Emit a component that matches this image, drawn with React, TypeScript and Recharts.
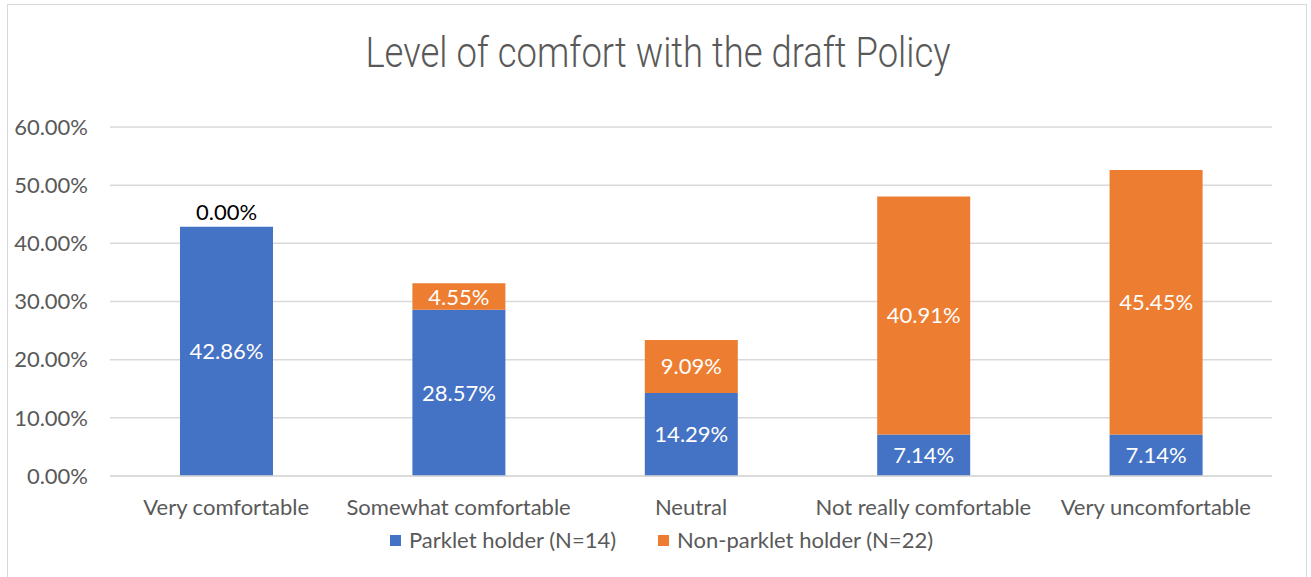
import React from 'react';
import { BarChart, Bar, XAxis, YAxis, CartesianGrid, LabelList } from 'recharts';

const categories = ['Very comfortable', 'Somewhat comfortable', 'Neutral', 'Not really comfortable', 'Very uncomfortable'];
const parkletHolder = [42.86, 28.57, 14.29, 7.14, 7.14];
const nonParkletHolder = [0, 4.55, 9.09, 40.91, 45.45];
const yTicks = [0, 10, 20, 30, 40, 50, 60];

const data = categories.map((name, i) => ({
  name,
  parklet: parkletHolder[i],
  nonParklet: nonParkletHolder[i],
}));

const FONT = 'Lato, "Open Sans", sans-serif';
const BLUE = '#4472C4';
const ORANGE = '#ED7D31';
const FS = 22;

const pct = (v: number) => `${Number(v).toFixed(2)}%`;

// white label in the middle of a segment
const SegmentLabel = (props: any) => {
  const { x, y, width, height, value } = props;
  if (!height || Math.abs(height) < 1) return null;
  return (
    <text x={x + width / 2} y={y + height / 2} dy={8} textAnchor="middle" fill="#fff" fontSize={FS} fontFamily={FONT}>
      {pct(value)}
    </text>
  );
};

// empty non-parklet segment: its label sits on top of the blue bar
const ZeroLabel = (props: any) => {
  const { x, y, width, index } = props;
  if (nonParkletHolder[index] !== 0) return null;
  return (
    <text x={x + width / 2} y={y - 7} textAnchor="middle" fill="#000" fontSize={FS} fontFamily={FONT}>
      {pct(nonParkletHolder[index])}
    </text>
  );
};

export default function App() {
  return (
    <div style={{ position: 'absolute', left: 0, top: 0, width: 1311, height: 577, background: '#fff', overflow: 'hidden' }}>
      <div style={{ position: 'absolute', left: 7, top: 4, width: 1298, height: 600, border: '1.5px solid #d9d9d9' }} />
      <svg style={{ position: 'absolute', left: 0, top: 0 }} width={1311} height={90}>
        <text
          x={658}
          y={67}
          textAnchor="middle"
          fontFamily="Roboto, sans-serif"
          fontWeight={300}
          fontSize={42}
          fill="#595959"
          transform="translate(658 0) scale(0.868 1) translate(-658 0)"
        >
          Level of comfort with the draft Policy
        </text>
      </svg>
      <div style={{ position: 'absolute', left: 0, top: 0 }}>
        <BarChart width={1311} height={577} data={data} margin={{ top: 127, right: 39, bottom: 71, left: 10 }} barSize={93}>
          <CartesianGrid vertical={false} stroke="#d9d9d9" strokeWidth={1.5} />
          <XAxis
            dataKey="name"
            axisLine={{ stroke: '#d9d9d9', strokeWidth: 1.5 }}
            tickLine={false}
            tickSize={0}
            tickMargin={23}
            height={30}
            tick={{ fill: '#595959', fontSize: FS, fontFamily: FONT }}
            interval={0}
          />
          <YAxis
            domain={[0, 60]}
            ticks={yTicks}
            width={100}
            axisLine={false}
            tickLine={false}
            tickSize={0}
            tickMargin={22}
            tickFormatter={(v) => pct(v)}
            tick={{ fill: '#595959', fontSize: FS, fontFamily: FONT }}
          />
          <Bar dataKey="parklet" stackId="a" fill={BLUE} isAnimationActive={false}>
            <LabelList dataKey="parklet" content={SegmentLabel} />
            <LabelList dataKey="parklet" content={ZeroLabel} />
          </Bar>
          <Bar dataKey="nonParklet" stackId="a" fill={ORANGE} isAnimationActive={false}>
            <LabelList dataKey="nonParklet" content={SegmentLabel} />
          </Bar>
        </BarChart>
      </div>
      <div
        style={{
          position: 'absolute',
          left: 0,
          top: 527,
          width: 1311,
          paddingLeft: 12,
          boxSizing: 'border-box',
          display: 'flex',
          justifyContent: 'center',
          gap: 42,
          fontFamily: FONT,
          fontSize: FS,
          lineHeight: '26px',
          color: '#595959',
        }}
      >
        <span style={{ display: 'flex', alignItems: 'center' }}>
          <span style={{ width: 11, height: 11, background: BLUE, marginRight: 8 }} />
          Parklet holder (N=14)
        </span>
        <span style={{ display: 'flex', alignItems: 'center' }}>
          <span style={{ width: 11, height: 11, background: ORANGE, marginRight: 8 }} />
          Non-parklet holder (N=22)
        </span>
      </div>
    </div>
  );
}
